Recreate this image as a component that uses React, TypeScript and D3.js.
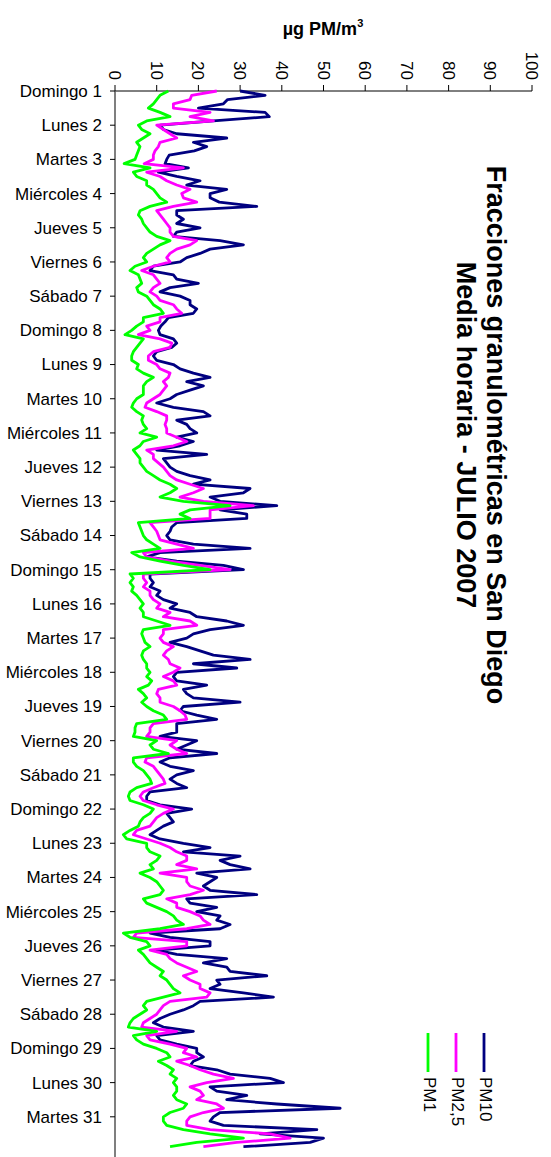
import React from "react";
import * as d3 from "d3";

// Hourly means sampled every 3 hours (8 readings per day), 1–31 July 2007
const pm10: number[] = [
  30, 36, 27, 26, 20, 36, 37, 23.6, 10.8, 11.6, 14.8, 26.8, 18.8, 22, 19, 13, 12.4, 12, 17.6, 10.4, 14.8, 20.4, 17.2, 26.8, 22.8,
  22.8, 25, 34, 14.8, 14.8, 16.4, 14.8, 20.4, 14.8, 14, 25.2, 30.8, 22.8, 20.4, 17.2, 15.6, 9.2, 8.4, 14, 14.8, 20, 13.2, 10.8, 15.6, 18,
  18, 19.6, 18.8, 12.8, 12, 11, 10.4, 10.8, 14, 14.8, 13.6, 10, 9.2, 10, 14, 15.6, 18.8, 22.8, 17.2, 21.2, 18, 14.8, 13.2, 10, 14,
  21.2, 22.8, 14.8, 17.2, 18, 19.6, 14.8, 18.8, 15.6, 10, 22, 11.6, 12.4, 13.2, 14.8, 18, 22.8, 18.8, 32.4, 30.8, 22.8, 25.2, 38.8, 25.2, 31.6,
  31.6, 14.8, 13.6, 13.2, 12.4, 13.2, 18.8, 32.4, 10.8, 7.6, 14.8, 26, 30.8, 8.4, 8.4, 9.2, 8.4, 10.8, 10, 11.6, 14.8, 13.2, 18, 19.6, 26.8,
  30.8, 22.8, 18.8, 17.2, 13.2, 17.2, 20.4, 23.6, 32.4, 18.8, 29.2, 14.8, 14, 14.8, 22, 16.4, 17.2, 18.8, 30, 16.4, 15.6, 19.6, 24.4, 14.8, 14.8,
  14.8, 10.8, 19.6, 17.2, 14.8, 24.4, 13.2, 10.8, 13.2, 18.8, 14.8, 13.2, 14.8, 17.2, 8.4, 7.6, 7.6, 10.8, 18.4, 12.4, 13.2, 14, 11.6, 10, 8.4,
  10.8, 16.4, 22.8, 16.4, 30, 25.2, 27.6, 32.4, 19.6, 24.4, 22.8, 21.2, 22.8, 34, 17.2, 18, 24.4, 19.6, 25.2, 24.4, 27.6, 25.2, 8.4, 13.2, 22.8,
  22.8, 10, 14.8, 26.8, 21.2, 26.8, 27.6, 36.4, 24.4, 25.2, 22.8, 30.8, 38, 20.4, 18.8, 16.4, 13.2, 10.8, 9.2, 11.6, 18.8, 10, 10.8, 14.8, 19.6,
  19.6, 21.2, 18.8, 18, 24.4, 27.6, 37.2, 40.4, 22.8, 24.4, 31.6, 26.8, 38.8, 54, 25.2, 23.6, 22.8, 26, 48.4, 34.8, 50, 46.8, 30.8,
];

const pm25: number[] = [
  24.4, 18.4, 18, 14, 14, 22.8, 18, 23.6, 10, 11.6, 13.2, 14.8, 10.8, 10.4, 9.6, 9.2, 9.2, 7, 16.4, 7.6, 10.8, 12.4, 14.8, 18, 16,
  16.4, 19.6, 14, 10, 10.8, 11.6, 12.4, 13.2, 13.2, 14, 19.6, 18, 14.8, 13.2, 12.4, 13.2, 9.2, 6.4, 9.2, 10, 10.8, 9.2, 8.4, 10, 10.8,
  14, 14.8, 16, 10.8, 10.8, 7.6, 8.4, 5.6, 10.8, 13.6, 13.2, 9.2, 8, 8, 10, 10.8, 13.2, 12.8, 11.6, 12.4, 11.6, 10.8, 9.2, 7.6, 7.2,
  10, 12.4, 12.4, 12, 12.4, 12.4, 14.8, 17.2, 14, 7.6, 9.2, 9.2, 10.4, 11.6, 12.4, 13.2, 14.8, 18, 21.2, 18.8, 15.6, 21.2, 33.2, 22.8, 22.8,
  22.8, 8.4, 9.2, 10, 10.4, 10.8, 14.8, 18.8, 6.8, 7.6, 13.2, 20.4, 27.6, 6.8, 6.8, 7.6, 6.8, 8.4, 8.4, 9.2, 10.8, 10, 13.2, 11.6, 18,
  19.6, 11.6, 11.6, 10.8, 11.6, 14, 12.4, 11.6, 12.8, 13.2, 15.6, 14, 11.6, 14, 14.8, 10.4, 10, 10.8, 10.8, 14, 15.6, 16.8, 17.2, 9.2, 8.4,
  8.4, 7.6, 14.8, 13.2, 14.8, 17.2, 7.6, 7.2, 9.2, 10, 10.8, 11.6, 12, 9.2, 6.8, 6, 6.8, 10, 14, 11.6, 10, 9.2, 8.4, 5.2, 4.4,
  7.6, 10.8, 13.2, 14.8, 17.2, 17.2, 14.8, 19.6, 10.8, 17.2, 17.2, 18, 21.2, 18, 12.4, 14.8, 14.8, 18, 20.4, 21.2, 22.8, 17.2, 5.2, 4.4, 17.2,
  17.2, 8.4, 12.4, 13.2, 14.8, 17.2, 19.6, 16.4, 18, 20.4, 20.4, 22.8, 22, 13.2, 11.6, 10.8, 10, 8.4, 6.8, 6.4, 14.8, 7.6, 8.4, 13.2, 17.2,
  16.4, 19.6, 14.8, 18, 20.4, 23.6, 28.4, 22, 18, 20.4, 21.2, 19.6, 24.4, 26, 21.2, 18, 17.2, 17.2, 22.8, 37.2, 42, 29.2, 21.2,
];

const pm1: number[] = [
  12.8, 10.8, 10, 9.2, 8, 10.8, 13.2, 7.6, 5.6, 6.4, 8.4, 6.8, 5.2, 6, 5.6, 5.2, 4.8, 2.2, 8.4, 4.4, 5.2, 7.6, 7.6, 9.2, 10,
  10.8, 12.4, 8.4, 6, 5.6, 6.4, 6.8, 7.6, 8.4, 10, 13.2, 10.8, 9.2, 7.6, 6.8, 7.6, 4.8, 3.6, 5.6, 6, 6.4, 5.2, 5.6, 7.6, 8.4,
  9.2, 10.8, 11.6, 6.8, 6.8, 5.2, 4, 2.4, 6.8, 6, 5.2, 4.4, 4, 4, 5.6, 5.2, 6.8, 9.2, 7.6, 6.8, 6.8, 6.8, 5.2, 4.4, 4,
  5.2, 6.8, 6.4, 6.8, 7.6, 6, 10, 6.8, 6, 4.4, 5.2, 6, 6, 6.8, 7.6, 9.2, 10.8, 13.2, 14.8, 13.2, 10.8, 16.4, 27.6, 18, 15.6,
  18, 5.6, 6, 6.4, 6.8, 7.6, 9.2, 10.8, 4, 6, 10.8, 16.4, 22.8, 3.6, 4.4, 3.6, 4.4, 4, 5.2, 6, 6.8, 6, 6.8, 6.8, 10,
  13.2, 6.8, 6.4, 6.8, 7.2, 8.4, 6.8, 6.4, 6.8, 7.6, 7.6, 8.4, 7.6, 8.8, 8, 5.6, 6.8, 7.6, 6.4, 7.6, 9.2, 11.6, 12.4, 5.2, 4.8,
  4.8, 4.4, 10, 8.4, 9.2, 12.8, 4.4, 4.4, 5.2, 6.8, 7.6, 8.4, 8.8, 5.2, 3.6, 3.2, 3.6, 6.8, 9.2, 8.4, 6.8, 6, 5.6, 3.6, 2,
  2.8, 7.6, 7.6, 8.4, 10.8, 10, 8.4, 9.2, 6, 8.4, 10, 10.8, 11.6, 10.8, 6.8, 7.6, 10, 12.4, 14, 14.8, 16.4, 10.8, 2, 3.6, 7.6,
  8.4, 5.6, 6.8, 7.6, 8.4, 10, 11.6, 10.8, 12.4, 13.2, 14, 15.6, 11.6, 7.6, 6.8, 7.6, 6, 4.4, 3.6, 3.2, 10, 4.4, 5.2, 6.8, 10,
  12.4, 13.2, 10.4, 12.4, 14, 13.2, 14.8, 14, 14.8, 14.8, 14, 14.8, 17.2, 16.4, 13.2, 11.6, 11.6, 12.4, 16.4, 22.8, 30.8, 19.6, 13.2,
];

const dayLabels: string[] = [
  "Domingo 1", "Lunes 2", "Martes 3", "Miércoles 4", "Jueves 5", "Viernes 6", "Sábado 7",
  "Domingo 8", "Lunes 9", "Martes 10", "Miércoles 11", "Jueves 12", "Viernes 13", "Sábado 14",
  "Domingo 15", "Lunes 16", "Martes 17", "Miércoles 18", "Jueves 19", "Viernes 20", "Sábado 21",
  "Domingo 22", "Lunes 23", "Martes 24", "Miércoles 25", "Jueves 26", "Viernes 27", "Sábado 28",
  "Domingo 29", "Lunes 30", "Martes 31",
];

const valueTicks: number[] = [0, 10, 20, 30, 40, 50, 60, 70, 80, 90, 100];

const STEP_HOURS = 3;
const TOTAL_HOURS = 31 * 24;

const series = [
  { name: "PM10", values: pm10, color: "#000080" },
  { name: "PM2,5", values: pm25, color: "#FF00FF" },
  { name: "PM1", values: pm1, color: "#00FF00" },
];

const FONT = "'Liberation Sans', Arial, sans-serif";

export default function App() {
  const W = 551;
  const H = 1157;
  const x = d3.scaleLinear().domain([0, 100]).range([115, 532]);
  const y = d3.scaleLinear().domain([0, TOTAL_HOURS]).range([91, 1151]);

  const line = d3
    .line<number>()
    .x((v) => x(v))
    .y((_, i) => y(i * STEP_HOURS));

  const legendX = [484, 456, 428];

  return (
    <svg
      width={W}
      height={H}
      style={{ position: "absolute", left: 0, top: 0, background: "#fff" }}
      fontFamily={FONT}
    >
      <rect width={W} height={H} fill="#fff" />

      {/* axis title */}
      <text x={323} y={35} textAnchor="middle" fontWeight="bold" fontSize={18}>
        µg PM/m
        <tspan dy={-8} fontSize={11}>3</tspan>
      </text>

      {/* value axis along the top */}
      <line x1={x(0)} x2={x(100)} y1={91} y2={91} stroke="#000" strokeWidth={1} />
      {valueTicks.map((v) => (
        <g key={v}>
          <line x1={x(v)} x2={x(v)} y1={85} y2={91} stroke="#000" strokeWidth={1} />
          <text
            transform={`translate(${x(v)},80) rotate(90)`}
            textAnchor="end"
            dy="0.35em"
            fontSize={17}
          >
            {v}
          </text>
        </g>
      ))}

      {/* time axis on the left */}
      <line x1={115} x2={115} y1={91} y2={H} stroke="#555" strokeWidth={1.5} />
      {dayLabels.map((d, i) => (
        <g key={d}>
          <line x1={110} x2={115} y1={y(i * 24)} y2={y(i * 24)} stroke="#000" strokeWidth={1} />
          <text x={102} y={y(i * 24)} dy="0.35em" textAnchor="end" fontSize={17}>
            {d}
          </text>
        </g>
      ))}

      {/* series */}
      {series.map((s) => (
        <path
          key={s.name}
          d={line(s.values) ?? ""}
          fill="none"
          stroke={s.color}
          strokeWidth={2.8}
          strokeLinejoin="round"
        />
      ))}

      {/* chart title */}
      <text
        transform="translate(487,435) rotate(90)"
        textAnchor="middle"
        fontWeight="bold"
        fontSize={27}
      >
        Fracciones granulométricas en San Diego
      </text>
      <text
        transform="translate(457,435) rotate(90)"
        textAnchor="middle"
        fontWeight="bold"
        fontSize={27}
      >
        Media horaria - JULIO 2007
      </text>

      {/* legend */}
      {series.map((s, i) => (
        <g key={s.name}>
          <line
            x1={legendX[i]}
            x2={legendX[i]}
            y1={1033}
            y2={1072}
            stroke={s.color}
            strokeWidth={2.8}
          />
          <text
            transform={`translate(${legendX[i] + 2},1077) rotate(90)`}
            dy="0.35em"
            fontSize={17}
          >
            {s.name}
          </text>
        </g>
      ))}
    </svg>
  );
}
